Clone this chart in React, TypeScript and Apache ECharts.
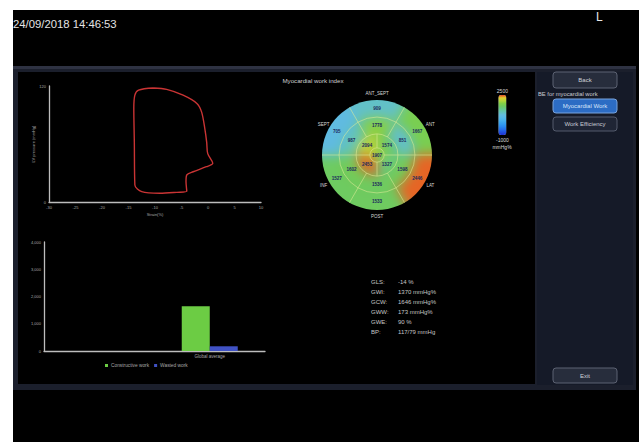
import React, { useEffect, useRef } from "react";
import * as echarts from "echarts";

const W = 639;
const H = 442;
const FONT = "Liberation Sans, Arial, sans-serif";

// Pressure–strain loop, traced clockwise from peak pressure
const loopStrain = [-10.3, -7.8, -4.7, -2.1, -1.2, -0.6, -0.25, -0.05, 0.9, -0.3, -2.8, -4.0, -4.15, -4.0, -5.9, -9.1, -12.5, -13.8, -13.9, -14.0, -13.8, -13.1, -10.3];
const loopPressure = [118, 116.5, 110.5, 102, 93, 76, 62, 50, 40, 36.5, 31.3, 28, 21, 11, 10, 9, 10.7, 17.6, 62, 97, 110.6, 115.8, 118];

// Global work bar chart
const workCategories = ["", "Global average"];
const constructiveWork = [null, 1646];
const wastedWork = [null, 173];

// Myocardial work index per segment (mmHg%), clockwise from the top of each ring
const apexWork = [1907];
const apicalWork = [1574, 1327, 2453, 2094];
const midWork = [1778, 851, 1598, 1536, 1602, 987];
const basalWork = [909, 1667, 2446, 1533, 1527, 705];
const wallNames = ["ANT_SEPT", "ANT", "LAT", "POST", "INF", "SEPT"];
const workRange = [-1000, 2500];

// Global indices
const statLabels = ["GLS:", "GWI:", "GCW:", "GWW:", "GWE:", "BP:"];
const statValues = ["-14 %", "1370 mmHg%", "1646 mmHg%", "173 mmHg%", "90 %", "117/79 mmHg"];

const rings = [apexWork, apicalWork, midWork, basalWork];
const segments = rings.flatMap((vals, ring) => vals.map((v, i) => [ring, i, v]));

// layout of the bull's eye
const CX = 377;
const CY = 155;
const R = 55;
const FIELD_HALF = 80;
const FIELD_OVERSCAN = 1.3;
const RING_EDGES = [0, 0.13, 0.38, 0.69, 1];

// colour scale, one stop every 250 mmHg% from -1000 to 2500
const workPalette = [
  "#2030d0", "#2050e0", "#2570ea", "#2a8cf0", "#35a0f0", "#45b0ee", "#55b8e8",
  "#62bce0", "#62c4b8", "#66c890", "#6cca64", "#80d048", "#b4d63a", "#e0d030", "#e84822",
];

function segAngles(ring: number, idx: number) {
  const n = rings[ring].length;
  const span = (2 * Math.PI) / n;
  const offset = n === 4 ? Math.PI / 4 : 0;
  const mid = -Math.PI / 2 + offset + idx * span;
  return [mid - span / 2, mid, mid + span / 2];
}

function txt(x: number, y: number, text: string, size: number, fill: string, align = "left", extra: any = {}) {
  return {
    type: "text",
    x,
    y,
    silent: true,
    style: { text, fill, fontSize: size, fontFamily: FONT, align, verticalAlign: "middle", ...extra },
  };
}

function button(x: number, y: number, w: number, h: number, label: string, fill: string, stroke: string, color: string) {
  return {
    type: "group",
    children: [
      { type: "rect", shape: { x, y, width: w, height: h, r: 3 }, style: { fill, stroke, lineWidth: 1 } },
      txt(x + w / 2, y + h / 2, label, 6, color, "center"),
    ],
  };
}

function baseOption(): any {
  const axisLine = { onZero: false, lineStyle: { color: "#bdbdbd", width: 1.3 } };
  const axisLabel = { fontSize: 4, color: "#a8a8a8", margin: 3, fontFamily: FONT };
  const nameStyle = { fontSize: 4, color: "#a8a8a8", fontFamily: FONT };
  const rowY = [282, 292, 302, 312, 322, 331.5];
  return {
    animation: false,
    backgroundColor: "#ffffff",
    textStyle: { fontFamily: FONT },
    graphic: [
      { type: "rect", z: -10, shape: { x: 13, y: 10, width: W - 13, height: H - 10 }, style: { fill: "#000" } },
      { type: "rect", z: -9, shape: { x: 13, y: 66, width: 623, height: 324 }, style: { fill: "#1b1f2c" } },
      { type: "rect", z: -9, shape: { x: 13, y: 66, width: 623, height: 3 }, style: { fill: "#2e3242" } },
      { type: "rect", z: -8, shape: { x: 18, y: 72, width: 517, height: 312 }, style: { fill: "#000" } },
      { type: "rect", z: -8, shape: { x: 537, y: 72, width: 96, height: 313 }, style: { fill: "#151a28" } },
      txt(13, 24, "24/09/2018 14:46:53", 11.3, "#e4e4e4"),
      txt(596, 17, "L", 12, "#e8e8e8"),
      button(553, 72, 64, 16, "Back", "#272d3c", "#5c6272", "#cfd2d8"),
      txt(538, 94, "BE for myocardial work", 5.8, "#c9cbd2"),
      button(553, 99, 64, 14, "Myocardial Work", "#2c6cc4", "#79a3dc", "#d6e4fa"),
      button(553, 117, 64, 14, "Work Efficiency", "#1f2535", "#545b6c", "#c9ccd4"),
      button(553, 368, 64, 15, "Exit", "#272d3c", "#5c6272", "#cfd2d8"),
      ...statLabels.map((s, i) => txt(371, rowY[i], s, 6, "#c6c6c6")),
      ...statValues.map((s, i) => txt(398, rowY[i], s, 6, "#c6c6c6")),
    ],
    grid: [
      { left: 49, top: 86, width: 212, height: 116 },
      { left: 44, top: 242, width: 221, height: 109 },
    ],
    xAxis: [
      {
        gridIndex: 0, type: "value", min: -30, max: 10, interval: 5,
        axisLine, axisTick: { show: false }, splitLine: { show: false }, axisLabel,
        name: "Strain(%)", nameLocation: "middle", nameGap: 10, nameTextStyle: nameStyle,
      },
      {
        gridIndex: 1, type: "category", data: workCategories,
        axisLine, axisTick: { show: false }, axisLabel: { ...axisLabel, fontSize: 4.5 },
      },
    ],
    yAxis: [
      {
        gridIndex: 0, type: "value", min: 0, max: 120, interval: 120,
        axisLine: { show: true, ...axisLine }, axisTick: { show: false }, splitLine: { show: false }, axisLabel,
        name: "LV pressure (mmHg)", nameLocation: "middle", nameGap: 12, nameRotate: 90, nameTextStyle: nameStyle,
      },
      {
        gridIndex: 1, type: "value", min: 0, max: 4000, interval: 1000,
        axisLine: { show: true, ...axisLine }, axisTick: { show: false }, splitLine: { show: false }, axisLabel,
      },
    ],
    legend: {
      data: ["Constructive work", "Wasted work"],
      left: 105, top: 363, padding: 0,
      icon: "rect", itemWidth: 3, itemHeight: 3, itemGap: 5,
      textStyle: { fontSize: 4.8, color: "#a8a8a8", fontFamily: FONT, padding: [0, 0, 0, -2] },
    },
    series: [
      {
        type: "line", xAxisIndex: 0, yAxisIndex: 0,
        data: loopStrain.map((s, i) => [s, loopPressure[i]]),
        smooth: 0.3, symbol: "none",
        lineStyle: { color: "#c93434", width: 1.4 },
      },
      {
        type: "bar", name: "Constructive work", xAxisIndex: 1, yAxisIndex: 1,
        data: constructiveWork, barWidth: 28, barGap: "0%",
        itemStyle: { color: "#6ccc44" },
      },
      {
        type: "bar", name: "Wasted work", xAxisIndex: 1, yAxisIndex: 1,
        data: wastedWork, barWidth: 28, barGap: "0%",
        itemStyle: { color: "#4052c4" },
      },
    ],
  };
}

// colour field of the bull's eye (softened underneath the segment outlines)
function fieldOption(): any {
  return {
    animation: false,
    polar: { center: ["50%", "50%"], radius: R * FIELD_OVERSCAN },
    angleAxis: { type: "value", min: 0, max: 6, show: false },
    radiusAxis: { type: "value", min: 0, max: 4, show: false },
    visualMap: {
      show: false, type: "continuous", min: workRange[0], max: workRange[1],
      dimension: 2, seriesIndex: 0, inRange: { color: workPalette },
    },
    series: [
      {
        type: "custom", coordinateSystem: "polar", data: segments,
        encode: { radius: 0, angle: 1 },
        renderItem: (params: any, api: any) => {
          const { cx, cy, r } = params.coordSys;
          const rd = r / FIELD_OVERSCAN;
          const ring = api.value(0);
          const idx = api.value(1);
          const color = api.visual("color");
          if (ring === 0) {
            return { type: "circle", shape: { cx, cy, r: RING_EDGES[1] * rd }, style: { fill: color } };
          }
          const [a0, , a1] = segAngles(ring, idx);
          const r0 = RING_EDGES[ring] * rd;
          const r1 = ring === 3 ? r : RING_EDGES[ring + 1] * rd;
          return {
            type: "sector",
            shape: { cx, cy, r0, r: r1, startAngle: a0 - 0.01, endAngle: a1 + 0.01, clockwise: true },
            style: { fill: color, stroke: color, lineWidth: 0.5 },
          };
        },
      },
    ],
  };
}

// outlines, values, wall names and colour scale of the bull's eye
function topOption(): any {
  const gridStroke = "rgba(222,236,150,0.7)";
  return {
    animation: false,
    polar: { center: [CX, CY], radius: R },
    angleAxis: { type: "value", min: 0, max: 6, show: false },
    radiusAxis: { type: "value", min: 0, max: 4, show: false },
    visualMap: {
      type: "continuous", min: workRange[0], max: workRange[1], dimension: 2, seriesIndex: 0,
      left: 496, top: 88, padding: 0, itemWidth: 8, itemHeight: 40, textGap: 2,
      text: [String(workRange[1]), String(workRange[0])],
      textStyle: { color: "#dcdcdc", fontSize: 5, fontFamily: FONT },
      calculable: false, inRange: { color: workPalette },
    },
    graphic: [
      txt(313, 80, "Myocardial work index", 6.2, "#cfcfcf", "center"),
      txt(502, 147, "mmHg%", 5, "#dcdcdc", "center"),
    ],
    series: [
      {
        type: "custom", coordinateSystem: "polar", data: segments,
        encode: { radius: 0, angle: 1 },
        renderItem: (params: any, api: any) => {
          const { cx, cy, r } = params.coordSys;
          const ring = api.value(0);
          const idx = api.value(1);
          const val = api.value(2);
          const [a0, am, a1] = segAngles(ring, idx);
          const rin = RING_EDGES[ring] * r;
          const rout = RING_EDGES[ring + 1] * r;
          const rl = ring === 0 ? 0 : (rin + rout) / 2;
          const children: any[] = [];
          if (ring > 0) {
            children.push({
              type: "line",
              shape: {
                x1: cx + rin * Math.cos(a0), y1: cy + rin * Math.sin(a0),
                x2: cx + rout * Math.cos(a0), y2: cy + rout * Math.sin(a0),
              },
              style: { stroke: gridStroke, lineWidth: 0.8 },
            });
            children.push({
              type: "arc",
              shape: { cx, cy, r: rin, startAngle: a0, endAngle: a1, clockwise: true },
              style: { stroke: gridStroke, lineWidth: 0.8, fill: "none" },
            });
          }
          children.push({
            type: "text",
            x: cx + rl * Math.cos(am),
            y: cy + rl * Math.sin(am),
            style: {
              text: String(val), fill: "#1c2a5c", fontSize: 4.6, fontWeight: "bold",
              fontFamily: FONT, align: "center", verticalAlign: "middle",
            },
          });
          if (ring === 3) {
            const rw = r * 1.12;
            children.push({
              type: "text",
              x: cx + rw * Math.cos(am),
              y: cy + rw * Math.sin(am),
              style: {
                text: wallNames[idx], fill: "#d8d8d8", fontSize: 4.5,
                fontFamily: FONT, align: "center", verticalAlign: "middle",
              },
            });
          }
          return { type: "group", children };
        },
      },
    ],
  };
}

export default function App() {
  const baseRef = useRef<HTMLDivElement>(null);
  const fieldRef = useRef<HTMLDivElement>(null);
  const topRef = useRef<HTMLDivElement>(null);

  useEffect(() => {
    const base = echarts.init(baseRef.current!, undefined, { renderer: "svg" });
    const field = echarts.init(fieldRef.current!, undefined, { renderer: "svg" });
    const top = echarts.init(topRef.current!, undefined, { renderer: "svg" });
    base.setOption(baseOption());
    field.setOption(fieldOption());
    top.setOption(topOption());
    return () => {
      base.dispose();
      field.dispose();
      top.dispose();
    };
  }, []);

  const side = FIELD_HALF * 2;
  return (
    <div style={{ position: "fixed", left: 0, top: 0, width: W, height: H, overflow: "hidden" }}>
      <div ref={baseRef} style={{ position: "absolute", left: 0, top: 0, width: W, height: H }} />
      <div
        style={{
          position: "absolute",
          left: CX - FIELD_HALF,
          top: CY - FIELD_HALF,
          width: side,
          height: side,
          clipPath: `circle(${R}px at ${FIELD_HALF}px ${FIELD_HALF}px)`,
        }}
      >
        <div ref={fieldRef} style={{ width: side, height: side, filter: "blur(6px)" }} />
      </div>
      <div ref={topRef} style={{ position: "absolute", left: 0, top: 0, width: W, height: H }} />
    </div>
  );
}
